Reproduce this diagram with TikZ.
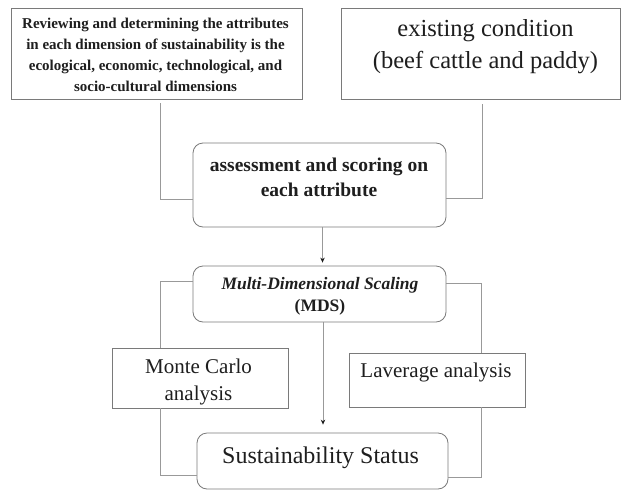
\documentclass[tikz,border=0pt]{standalone}
\usepackage{fontspec}
\setmainfont{Liberation Serif}
\usetikzlibrary{arrows.meta}
\definecolor{txtc}{HTML}{1E1E1E}
\definecolor{boxc}{HTML}{7A7A7A}
\definecolor{linec}{HTML}{999999}
\tikzset{
  sqbox/.style={draw=boxc, line width=0.8pt, inner sep=0pt, fill=white},
  rdbox/.style={sqbox, rounded corners=10pt},
  txt/.style={text=txtc, align=center, inner sep=0pt},
  conn/.style={draw=linec, line width=0.8pt},
  arr/.style={conn, -{Stealth[length=5pt,width=4.5pt,color=txtc]}}
}
\begin{document}
\begin{tikzpicture}[x=1pt,y=-1pt]
\useasboundingbox (0,0) rectangle (622,491);
% boxes
\node[sqbox, minimum width=291pt, minimum height=91pt] (b1) at (156.5,53.5) {};
\node[sqbox, minimum width=279pt, minimum height=91pt] (b2) at (480.5,53.5) {};
\node[rdbox, minimum width=253pt, minimum height=84pt] (b3) at (319.5,185) {};
\node[rdbox, minimum width=253pt, minimum height=56pt] (mds) at (319.5,294) {};
\node[sqbox, minimum width=176pt, minimum height=60pt] (mc) at (200,378) {};
\node[sqbox, minimum width=176pt, minimum height=54pt] (lav) at (437,380) {};
\node[rdbox, minimum width=251pt, minimum height=56pt] (sust) at (322.5,461) {};
% texts
\node[txt, font=\fontsize{15}{21}\selectfont\bfseries] (t1) at (155.5,54.5)
  {Reviewing and determining the attributes\\ in each dimension of sustainability is the\\ ecological, economic, technological, and\\ socio-cultural dimensions};
\node[txt, font=\fontsize{24.5}{32}\selectfont] (t2) at (485.5,47)
  {existing condition\\ (beef cattle and paddy)};
\node[txt, font=\fontsize{19.5}{25}\selectfont\bfseries] (t3) at (319,177.5)
  {assessment and scoring on\\ each attribute};
\node[txt, font=\fontsize{17.5}{22}\selectfont\bfseries] (t4) at (320,296)
  {\itshape Multi-Dimensional Scaling\\ (MDS)};
\node[txt, font=\fontsize{21}{27}\selectfont] (t5) at (198.5,381.5)
  {Monte Carlo\\ analysis};
\node[txt, font=\fontsize{21}{27}\selectfont] (t6) at (436,372)
  {Laverage analysis};
\node[txt, font=\fontsize{24}{30}\selectfont] (t7) at (320.5,458)
  {Sustainability Status};
% connectors
\draw[conn, shorten <=4pt] ([xshift=3.5pt]b1.south) |- ([yshift=-14pt]b3.west);
\draw[conn, shorten <=5pt] ([xshift=1.5pt]b2.south) |- ([yshift=-13pt]b3.east);
\draw[arr, shorten >=3pt] ([xshift=3pt]b3.south) -- ([xshift=3pt]b3.south |- mds.north);
\draw[conn] ([yshift=13pt]mds.west) -| ([xshift=-40pt]mc.north);
\draw[conn] ([yshift=11pt]mds.east) -| ([xshift=44pt]lav.north);
\draw[arr, shorten >=8pt] ([xshift=3.5pt]mds.south) -- ([xshift=3.5pt]mds.south |- sust.north);
\draw[conn] ([xshift=-40pt]mc.south) |- ([yshift=-14pt]sust.west);
\draw[conn] ([xshift=44pt]lav.south) |- ([yshift=-16pt]sust.east);
\end{tikzpicture}
\end{document}
